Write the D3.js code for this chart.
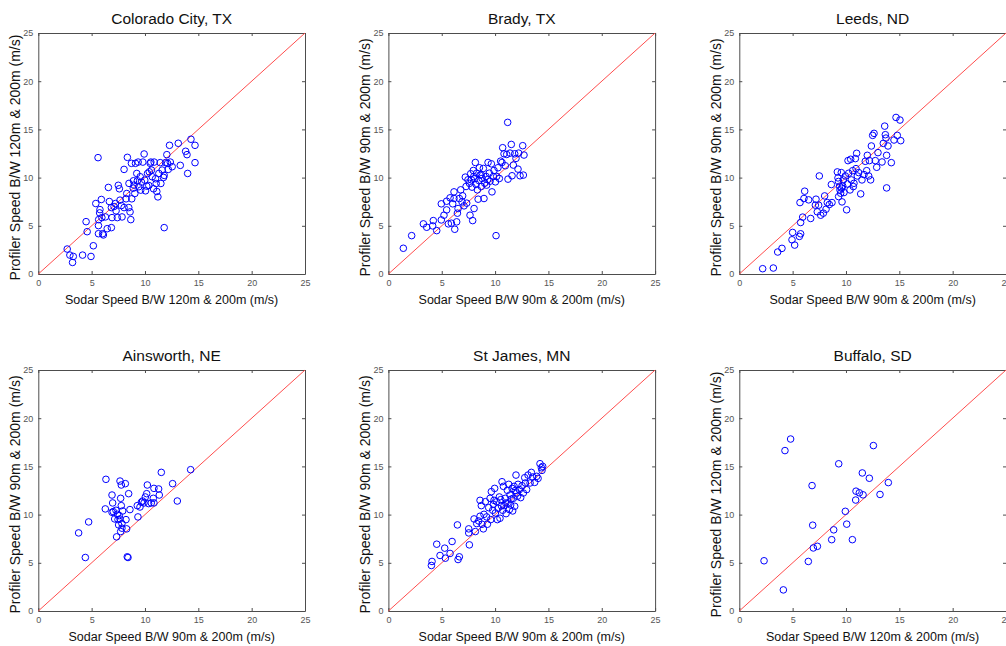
<!DOCTYPE html>
<html>
<head>
<meta charset="utf-8">
<script src="https://cdn.jsdelivr.net/npm/d3@7"></script>
<style>
  html, body { margin: 0; padding: 0; background: #fff; }
  svg { display: block; }
</style>
</head>
<body>
<svg id="chart" width="1006" height="646"></svg>
<script>
// ---------- DATA (sodar speed, profiler speed) in m/s ----------
const titles = ["Colorado City, TX", "Brady, TX", "Leeds, ND", "Ainsworth, NE", "St James, MN", "Buffalo, SD"];
const xLabels = [
  "Sodar Speed B/W 120m & 200m (m/s)", "Sodar Speed B/W 90m & 200m (m/s)", "Sodar Speed B/W 90m & 200m (m/s)",
  "Sodar Speed B/W 90m & 200m (m/s)", "Sodar Speed B/W 90m & 200m (m/s)", "Sodar Speed B/W 120m & 200m (m/s)"
];
const yLabels = [
  "Profiler Speed B/W 120m & 200m (m/s)", "Profiler Speed B/W 90m & 200m (m/s)", "Profiler Speed B/W 90m & 200m (m/s)",
  "Profiler Speed B/W 90m & 200m (m/s)", "Profiler Speed B/W 90m & 200m (m/s)", "Profiler Speed B/W 120m & 200m (m/s)"
];
const tickValues = [0, 5, 10, 15, 20, 25];
const axisDomain = [0, 25];
const referenceLine = [[0, 0], [25, 25]];

const coloradoCity = [
  [2.71,2.59],[2.96,1.96],[3.28,1.82],[3.21,1.20],[4.15,1.96],[4.94,1.82],[5.16,2.93],[4.48,5.43],[4.58,4.39],
  [5.39,7.31],[5.64,5.02],[5.64,4.18],[5.96,5.85],[6.46,4.70],[6.03,4.18],[6.10,4.05],[6.85,4.81],[5.60,12.07],
  [5.91,7.73],[5.78,6.68],[5.75,6.34],[5.66,5.64],[6.29,5.92],[6.57,8.98],[6.66,7.52],[6.85,6.89],[6.91,5.85],
  [7.23,7.31],[7.29,6.55],[7.41,5.85],[7.50,9.20],[7.60,8.84],[7.66,7.66],[7.79,7.10],[7.85,5.92],[8.04,10.85],
  [8.04,6.89],[8.23,7.80],[8.29,8.35],[8.35,12.10],[8.48,6.89],[8.60,6.44],[8.67,5.64],[8.73,11.48],[8.76,7.80],
  [8.92,9.67],[8.98,9.22],[9.05,8.35],[9.11,11.48],[9.23,10.43],[9.29,9.67],[9.36,11.61],[9.42,9.05],[9.55,10.09],
  [9.67,9.53],[9.80,11.61],[9.92,12.45],[9.98,9.74],[10.05,8.63],[10.17,9.11],[10.24,10.43],[10.36,9.18],[10.49,11.48],
  [10.55,11.61],[10.61,10.78],[10.68,10.09],[10.80,8.84],[10.86,11.61],[10.99,9.88],[11.05,9.39],[11.11,8.56],[11.21,8.00],
  [11.30,10.43],[11.43,11.55],[11.49,9.39],[11.61,10.78],[11.74,10.02],[11.80,4.81],[11.80,10.23],[11.93,11.55],[12.05,12.38],
  [12.12,11.48],[12.18,10.85],[12.30,13.35],[12.37,11.61],[12.55,11.13],[13.12,13.56],[13.31,11.27],[13.81,12.73],[13.94,12.38],
  [14.00,10.43],[14.31,13.98],[14.69,13.35],[14.69,11.55],[8.50,9.40],[9.60,8.70],[7.10,7.00],[10.40,10.60],[8.90,8.90]
];
const bradyTX = [
  [1.40,2.67],[2.18,3.98],[3.28,5.20],[3.59,4.85],[4.21,5.54],[4.15,4.99],[4.53,4.50],[4.96,5.61],[4.96,7.28],
  [5.21,6.10],[5.46,6.65],[5.46,7.55],[5.62,5.20],[5.78,7.90],[5.90,5.27],[6.03,7.28],[6.15,8.52],[6.15,7.83],
  [6.22,4.64],[6.40,5.41],[6.47,6.31],[6.53,6.79],[6.65,7.83],[6.78,8.73],[6.90,7.48],[6.96,8.11],[7.09,7.07],
  [7.21,10.05],[7.28,9.08],[7.34,7.35],[7.46,9.77],[7.65,6.10],[7.71,10.40],[7.78,9.77],[7.84,9.01],[7.90,5.54],
  [7.96,10.74],[8.03,6.79],[8.09,9.91],[8.15,11.57],[8.22,9.29],[8.28,10.46],[8.34,8.73],[8.41,7.76],[8.47,9.70],
  [8.53,11.02],[8.59,10.26],[8.71,9.08],[8.78,9.91],[8.90,10.95],[8.96,7.83],[9.03,9.42],[9.15,10.12],[9.21,9.22],
  [9.34,11.57],[9.46,10.46],[9.53,9.63],[9.65,11.43],[9.71,8.52],[9.84,10.12],[9.90,10.74],[10.03,9.56],[10.09,3.98],
  [10.15,10.12],[10.27,11.02],[10.40,9.91],[10.52,11.71],[10.65,11.57],[10.71,13.10],[10.84,12.47],[10.96,11.23],[11.09,12.40],
  [11.18,15.73],[11.21,9.84],[11.40,12.54],[11.52,13.44],[11.59,10.19],[11.71,11.30],[11.84,12.47],[11.96,11.99],[12.15,10.88],
  [12.21,12.54],[12.34,10.19],[12.59,13.31],[12.65,10.26],[12.71,12.34],[7.60,9.40],[8.00,10.10],[8.70,10.30],[9.30,9.80]
];
const leedsND = [
  [2.19,0.55],[3.19,0.62],[3.60,2.28],[4.00,2.66],[4.94,3.55],[5.00,4.31],[5.19,3.00],[5.63,3.90],[5.75,4.17],
  [5.75,5.34],[5.94,5.90],[5.69,7.41],[6.06,7.83],[6.13,8.59],[6.50,7.69],[6.69,5.76],[7.13,7.14],[7.19,7.76],
  [7.31,6.45],[7.44,7.14],[7.50,10.17],[7.63,6.10],[7.88,6.31],[8.00,8.10],[8.13,6.72],[8.25,7.41],[8.44,7.21],
  [8.63,9.28],[8.69,7.41],[9.19,10.59],[9.25,9.97],[9.31,8.03],[9.44,8.72],[9.50,8.38],[9.56,10.52],[9.63,7.48],
  [9.69,9.14],[9.75,9.76],[9.81,8.45],[9.94,10.17],[10.06,6.66],[10.13,9.34],[10.19,11.76],[10.25,10.45],[10.38,8.72],
  [10.44,11.90],[10.50,9.76],[10.63,10.72],[10.69,9.07],[10.75,9.41],[10.88,11.97],[10.94,10.93],[11.00,12.52],[11.06,10.17],
  [11.19,10.52],[11.38,8.31],[11.50,9.76],[11.69,10.31],[11.81,11.69],[11.94,10.72],[12.00,12.31],[12.13,10.17],[12.19,11.76],
  [12.31,9.76],[12.38,13.28],[12.50,14.38],[12.63,14.59],[12.75,11.76],[12.88,11.07],[13.00,12.59],[13.38,11.62],[13.50,13.55],
  [13.63,15.34],[13.69,14.45],[13.75,14.10],[13.81,12.31],[13.81,8.93],[13.94,13.28],[14.25,11.55],[14.50,13.90],[14.69,16.24],
  [14.81,14.38],[15.06,15.97],[15.13,13.83],[9.40,9.10],[9.60,8.90],[9.30,9.60]
];
const ainsworthNE = [
  [3.78,8.10],[4.72,9.24],[4.41,5.55],[6.28,10.59],[6.34,13.66],[6.91,12.03],[6.97,11.21],[6.91,10.24],[7.03,10.31],
  [7.16,9.55],[7.28,10.45],[7.34,7.69],[7.41,10.03],[7.47,9.48],[7.53,8.93],[7.59,9.90],[7.66,13.48],[7.66,9.55],
  [7.72,11.69],[7.72,8.24],[7.78,13.07],[7.78,10.93],[7.84,9.07],[7.84,8.59],[7.91,10.38],[8.16,13.21],[8.22,9.48],
  [8.28,8.52],[8.34,5.62],[8.41,5.55],[8.47,12.17],[8.59,10.52],[9.28,10.93],[9.34,9.76],[9.53,10.79],[9.66,11.28],
  [9.78,11.41],[9.91,11.21],[10.03,11.83],[10.16,12.17],[10.22,13.07],[10.34,11.14],[10.59,11.21],[10.78,11.69],[10.84,12.72],
  [10.84,11.21],[11.28,12.66],[11.34,12.03],[11.53,14.38],[12.59,13.21],[13.03,11.41],[14.28,14.66]
];
const stJamesMN = [
  [4.03,4.72],[4.09,5.14],[4.53,6.93],[4.84,5.76],[5.28,6.52],[5.34,5.48],[5.78,5.97],[5.97,7.21],[6.47,8.93],
  [6.53,5.34],[6.65,5.62],[7.53,8.10],[7.53,8.52],[7.59,6.86],[8.03,9.55],[8.15,8.24],[8.28,9.07],[8.46,9.34],
  [8.59,11.48],[8.59,9.83],[8.71,10.93],[8.78,9.00],[8.90,8.52],[8.96,10.03],[9.09,11.34],[9.21,9.76],[9.28,9.00],
  [9.40,10.72],[9.53,11.69],[9.59,9.48],[9.65,12.38],[9.78,10.45],[9.84,11.07],[9.90,11.48],[9.96,12.72],[10.03,10.17],
  [10.15,11.34],[10.21,9.48],[10.28,10.66],[10.40,11.83],[10.46,9.62],[10.53,11.55],[10.65,13.41],[10.71,10.45],[10.78,12.93],
  [10.84,10.93],[10.96,11.69],[11.03,10.10],[11.15,12.52],[11.21,11.21],[11.28,13.14],[11.34,10.52],[11.40,12.03],[11.46,11.00],
  [11.59,12.72],[11.65,10.38],[11.71,11.69],[11.78,12.93],[11.84,10.86],[11.96,14.10],[12.03,12.24],[12.15,13.14],[12.28,12.59],
  [12.40,11.76],[12.53,13.00],[12.65,12.24],[12.78,13.83],[12.84,13.28],[12.96,12.59],[13.09,14.10],[13.28,13.28],[13.40,14.38],
  [13.53,13.90],[13.71,13.34],[13.90,13.97],[14.03,13.76],[14.21,15.28],[14.34,14.86],[14.46,15.00],[14.40,14.59],
  [11.00,11.20],[11.50,11.60],[12.10,11.90],[10.60,10.90],[11.90,12.50]
];
const buffaloSD = [
  [2.32,5.21],[4.13,2.19],[4.28,16.64],[4.81,17.84],[6.47,5.14],[6.82,13.01],[6.88,8.90],[6.94,6.54],[7.32,6.71],
  [8.66,7.40],[8.85,8.42],[9.32,15.27],[9.94,10.34],[10.07,9.01],[10.60,7.40],[10.91,11.51],[10.94,12.43],[11.25,12.26],
  [11.53,14.32],[11.60,12.05],[12.19,13.77],[12.57,17.16],[13.19,12.09],[13.97,13.32]
];
const siteData = [coloradoCity, bradyTX, leedsND, ainsworthNE, stJamesMN, buffaloSD];

// ---------- LAYOUT ----------
const svg = d3.select("#chart");
const colLeft = [38.3, 388.4, 739.3];
const rowTop = [33, 370];
const plotW = 266.7, plotH = 241;
const axisColor = "#4d4d4d";
const tickTextColor = "#555";

siteData.forEach((data, i) => {
  const col = i % 3, row = Math.floor(i / 3);
  const g = svg.append("g").attr("transform", `translate(${colLeft[col]},${rowTop[row]})`);
  const x = d3.scaleLinear().domain(axisDomain).range([0, plotW]);
  const y = d3.scaleLinear().domain(axisDomain).range([plotH, 0]);

  // axes (ticks inside, box)
  const axB = g.append("g").attr("transform", `translate(0,${plotH})`)
    .call(d3.axisBottom(x).tickValues(tickValues).tickSizeInner(-3).tickSizeOuter(0).tickPadding(6));
  const axL = g.append("g")
    .call(d3.axisLeft(y).tickValues(tickValues).tickSizeInner(-3).tickSizeOuter(0).tickPadding(5));
  const axT = g.append("g")
    .call(d3.axisTop(x).tickValues(tickValues).tickSizeInner(-3).tickSizeOuter(0).tickFormat(""));
  const axR = g.append("g").attr("transform", `translate(${plotW},0)`)
    .call(d3.axisRight(y).tickValues(tickValues).tickSizeInner(-3).tickSizeOuter(0).tickFormat(""));
  [axB, axL, axT, axR].forEach(a => {
    a.selectAll("path.domain").attr("stroke", axisColor).attr("stroke-width", 1);
    a.selectAll(".tick line").attr("stroke", axisColor);
    a.selectAll(".tick text").attr("fill", tickTextColor)
      .style("font-family", "'Liberation Sans Narrow', 'Liberation Sans', Arial, sans-serif")
      .style("font-size", "9px");
  });

  // reference line y = x
  const line = d3.line().x(d => x(d[0])).y(d => y(d[1]));
  g.append("path").datum(referenceLine).attr("d", line)
    .attr("fill", "none").attr("stroke", "#ff4d4d").attr("stroke-width", 1);

  // points
  g.append("g").selectAll("circle").data(data).join("circle")
    .attr("cx", d => x(d[0])).attr("cy", d => y(d[1])).attr("r", 3.3)
    .attr("fill", "none").attr("stroke", "#0000ff").attr("stroke-width", 1);

  // title
  g.append("text").attr("x", plotW / 2).attr("y", -9).attr("text-anchor", "middle")
    .style("font-family", "'Liberation Sans', Arial, sans-serif").style("font-size", "15.5px")
    .attr("fill", "#111").text(titles[i]);

  // x label
  g.append("text").attr("x", plotW / 2).attr("y", plotH + 30).attr("text-anchor", "middle")
    .style("font-family", "'Liberation Sans', Arial, sans-serif").style("font-size", "12.5px")
    .attr("fill", "#111").text(xLabels[i]);

  // y label
  g.append("text").attr("transform", `translate(-18,${plotH / 2 + 4}) rotate(-90)`).attr("text-anchor", "middle")
    .style("font-family", "'Liberation Sans', Arial, sans-serif").style("font-size", "14px")
    .attr("fill", "#111").text(yLabels[i]);
});
</script>
</body>
</html>
